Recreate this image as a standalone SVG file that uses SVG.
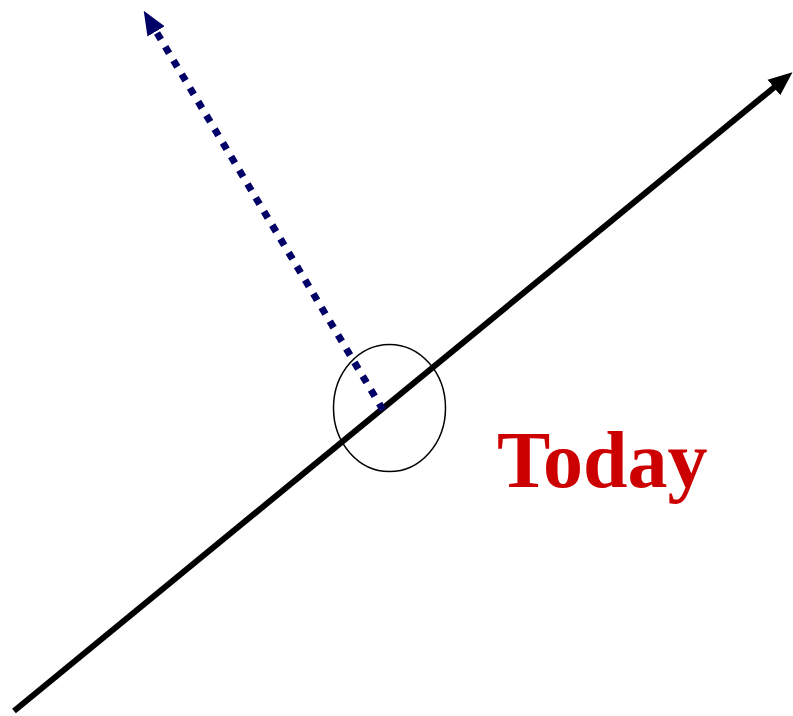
<svg xmlns="http://www.w3.org/2000/svg" width="793" height="716" viewBox="0 0 793 716">
<style>
.main{stroke:#000;stroke-width:6;fill:none}
.dot{stroke:#000066;stroke-width:7;stroke-dasharray:7.5 8.5;fill:none}
.ring{stroke:#000;stroke-width:1.5;fill:none}
.lbl{font-family:"Liberation Serif","Times New Roman",serif;font-weight:bold;font-size:80px;fill:#CC0000}
</style>
<defs>
<marker id="ah" markerUnits="userSpaceOnUse" markerWidth="24" markerHeight="24" viewBox="0 0 24 24" refX="4" refY="12" orient="auto">
<path d="M0,2 L24,12 L0,22 Z" fill="#000"/>
</marker>
<marker id="ahd" markerUnits="userSpaceOnUse" markerWidth="24" markerHeight="24" viewBox="0 0 24 24" refX="4" refY="12" orient="auto">
<path d="M0,2 L24,12 L0,22 Z" fill="#000066"/>
</marker>
</defs>
<g id="connectors">
<line class="main" x1="14" y1="711" x2="777" y2="85" marker-end="url(#ah)"/>
<line class="dot" x1="383" y1="410" x2="154" y2="28" marker-end="url(#ahd)"/>
</g>
<g id="today-circle">
<ellipse class="ring" cx="389.5" cy="408" rx="56" ry="63.5"/>
</g>
<g id="today-label">
<text class="lbl" x="497" y="487">Today</text>
</g>
</svg>
